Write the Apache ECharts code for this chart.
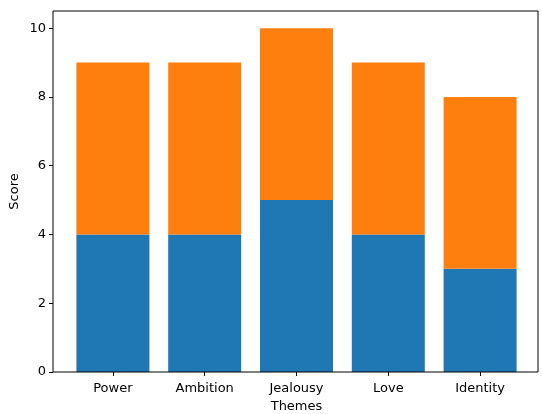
<!DOCTYPE html>
<html>
<head>
<meta charset="utf-8">
<script src="https://cdn.jsdelivr.net/npm/echarts@6/dist/echarts.min.js"></script>
<style>
  html, body { margin: 0; padding: 0; background: #fff; }
  #chart { width: 542px; height: 414px; }
</style>
</head>
<body>
<div id="chart"></div>
<script>
// data
var themes = ["Power", "Ambition", "Jealousy", "Love", "Identity"];
var lowerScores = [4, 4, 5, 4, 3];
var upperScores = [5, 5, 5, 5, 5];
var yTicks = [0, 2, 4, 6, 8, 10];

document.addEventListener("DOMContentLoaded", function () {
    var myChart = echarts.init(document.getElementById("chart"));
    var font = "DejaVu Sans";

    var option = {
        animation: false,
        textStyle: { fontFamily: font },
        grid: [
            // frame of the axes box
            { left: 53, right: 4, top: 11, bottom: 42, show: true, outerBoundsMode: "none",
              borderColor: "#000", borderWidth: 1, backgroundColor: "transparent", z: 5 },
            // plotting area (categories spaced like the reference)
            { left: 67, right: 16, top: 11, bottom: 42, outerBoundsMode: "none" },
        ],
        xAxis: [
            { gridIndex: 0, type: "value", show: false },
            {
                gridIndex: 1,
                type: "category",
                data: themes,
                axisLine: { show: false },
                axisTick: { show: true, alignWithLabel: true, length: 4,
                            lineStyle: { color: "#000" } },
                axisLabel: { color: "#000", fontSize: 13, margin: 10, fontFamily: font },
                name: "Themes",
                nameLocation: "middle",
                nameGap: 28,
                nameMoveOverlap: false,
                nameTextStyle: { color: "#000", fontSize: 13, fontFamily: font },
            },
        ],
        yAxis: [
            { gridIndex: 0, type: "value", show: false },
            {
                gridIndex: 1,
                type: "value",
                min: 0,
                max: 10.5,
                interval: 2,
                offset: 14,
                splitLine: { show: false },
                axisLine: { show: false },
                axisTick: { show: true, length: 4, customValues: yTicks,
                            lineStyle: { color: "#000" } },
                axisLabel: { color: "#000", fontSize: 13, margin: 7,
                             customValues: yTicks, fontFamily: font },
                name: "Score",
                nameLocation: "middle",
                nameGap: 32,
                nameMoveOverlap: false,
                nameTextStyle: { color: "#000", fontSize: 13, fontFamily: font },
            },
        ],
        series: [
            {
                type: "bar",
                xAxisIndex: 1,
                yAxisIndex: 1,
                stack: "total",
                data: lowerScores,
                barWidth: 73,
                itemStyle: { color: "#1f77b4", borderWidth: 0 },
            },
            {
                type: "bar",
                xAxisIndex: 1,
                yAxisIndex: 1,
                stack: "total",
                data: upperScores,
                barWidth: 73,
                itemStyle: { color: "#ff7f0e", borderWidth: 0 },
            },
        ],
    };

    myChart.setOption(option);
});
</script>
</body>
</html>
